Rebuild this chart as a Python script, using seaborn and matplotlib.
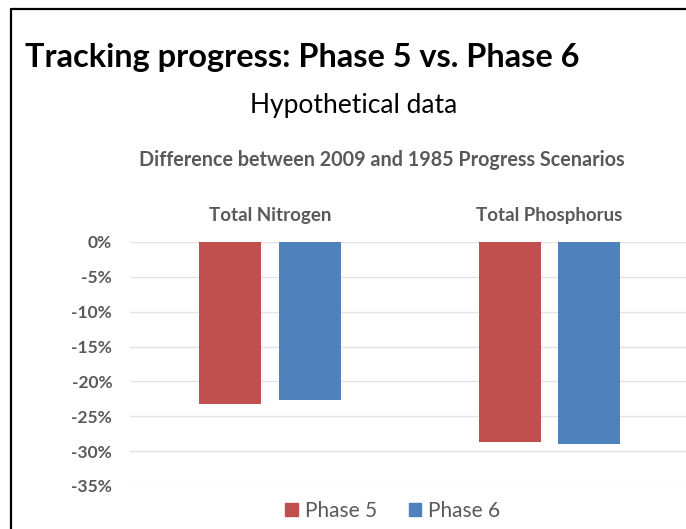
import matplotlib
matplotlib.use("Agg")
import matplotlib.pyplot as plt
import matplotlib.lines as mlines
import matplotlib.patches as mpatches
import pandas as pd
import seaborn as sns

# ── data ────────────────────────────────────────────────────────────────────
categories = ["Total Nitrogen", "Total Phosphorus"]
phases = ["Phase 5", "Phase 6"]
phase5_pct = [-23.2, -28.7]
phase6_pct = [-22.7, -29.0]
y_ticks = [0, -5, -10, -15, -20, -25, -30, -35]

RED = "#C0504D"
BLUE = "#4F81BD"
GREY = "#595959"

df = pd.DataFrame({
    "category": categories * 2,
    "phase": [phases[0]] * 2 + [phases[1]] * 2,
    "value": phase5_pct + phase6_pct,
})

sns.set_style("white")
plt.rcParams["font.family"] = ["Lato", "DejaVu Sans"]

W, H = 686, 529
fig = plt.figure(figsize=(W / 100, H / 100), dpi=100)
ax = fig.add_axes([130.25 / W, 1 - 486 / H, 559 / W, (486 - 242) / H])

sns.barplot(data=df, x="category", y="value", hue="phase",
            palette=[RED, BLUE], saturation=1, width=0.57, gap=0.22,
            linewidth=0, legend=False, ax=ax)

ax.set_ylim(-35, 0)
ax.set_xlim(-0.5, 1.5)
ax.set_yticks(y_ticks)
ax.set_yticklabels([f"{t}%" for t in y_ticks])
ax.yaxis.grid(True, color="#E4E4E4", lw=1)
ax.set_axisbelow(True)
for s in ax.spines.values():
    s.set_visible(False)
ax.set_xlabel("")
ax.set_ylabel("")
ax.xaxis.tick_top()
ax.tick_params(axis="x", length=0, pad=13, labelsize=13.5, labelcolor=GREY)
ax.tick_params(axis="y", length=0, pad=13, labelsize=12.5, labelcolor=GREY)
for lab in ax.get_xticklabels() + ax.get_yticklabels():
    lab.set_fontweight("bold")

# titles
fig.text(25 / W, 1 - 57 / H, "Tracking progress: Phase 5 vs. Phase 6",
         fontsize=23.4, fontweight="bold", color="black", va="center", ha="left")
fig.text(354 / W, 1 - 106 / H, "Hypothetical data",
         fontsize=19, color="black", va="center", ha="center")
fig.text(382 / W, 1 - 160 / H, "Difference between 2009 and 1985 Progress Scenarios",
         fontsize=14.2, fontweight="bold", color=GREY, va="center", ha="center")

# legend at the bottom
handles = [mpatches.Patch(color=RED, label=phases[0]),
           mpatches.Patch(color=BLUE, label=phases[1])]
fig.legend(handles=handles, loc="center", bbox_to_anchor=(393 / W, 1 - 511 / H),
           ncol=2, frameon=False, fontsize=15, labelcolor=GREY,
           handlelength=0.6, handleheight=0.6, handletextpad=0.35,
           columnspacing=1.5)

# slide frame (left and top edges)
fig.add_artist(mlines.Line2D([11 / W, 11 / W], [0, 1 - 9 / H], color="black", lw=1.6))
fig.add_artist(mlines.Line2D([11 / W, 1], [1 - 9 / H, 1 - 9 / H], color="black", lw=1.6))

fig.savefig("out.png", dpi=100)
